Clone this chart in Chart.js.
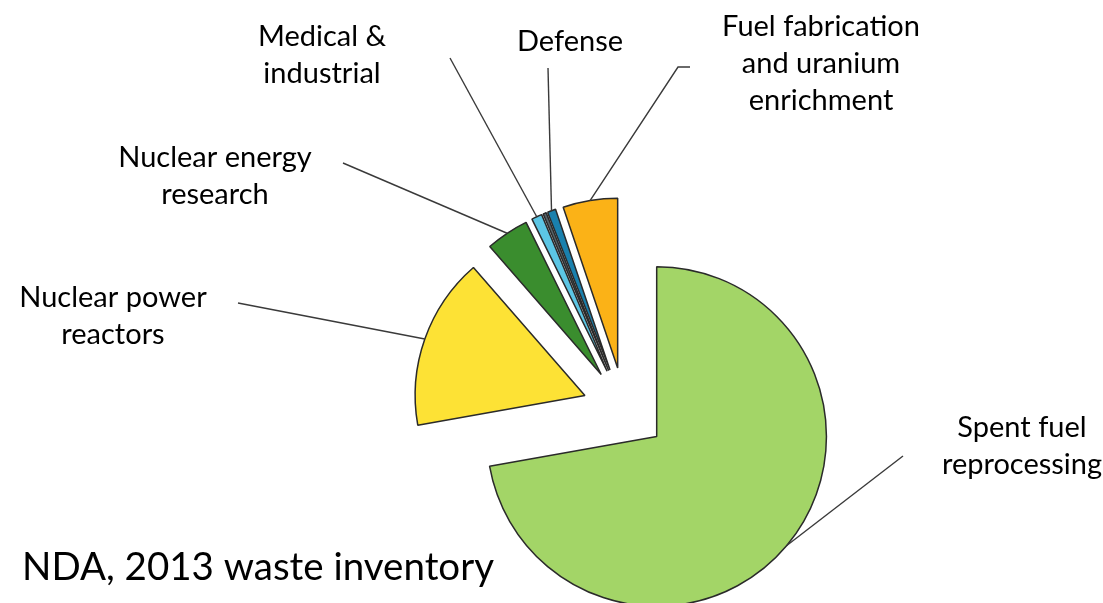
<!DOCTYPE html>
<html>
<head>
<meta charset="utf-8">
<title>NDA, 2013 waste inventory</title>
<script src="https://cdn.jsdelivr.net/npm/chart.js@4.4.1/dist/chart.umd.min.js"></script>
<style>
  html, body { margin: 0; padding: 0; background: #fff; }
  #wrap { position: relative; width: 1103px; height: 603px; }
</style>
</head>
<body>
<div id="wrap"><canvas id="wasteChart"></canvas></div>
<script>
// Share of the waste inventory by source (%), clockwise from 12 o'clock
const categories = [
  'Spent fuel reprocessing',
  'Nuclear power reactors',
  'Nuclear energy research',
  'Medical & industrial',
  'Other',
  'Defense',
  'Fuel fabrication and uranium enrichment'
];
const shares = [72.2, 16.4, 4.1, 1.0, 0.3, 0.8, 5.2];
const sliceColors = ['#a3d567', '#fde235', '#3a8d2e', '#5cc6e4', '#56656b', '#1a80ad', '#fbb217'];

// callout text, one entry per line (null = slice has no callout)
const labelLines = [
  ['Spent fuel', 'reprocessing'],
  ['Nuclear power', 'reactors'],
  ['Nuclear energy', 'research'],
  ['Medical &', 'industrial'],
  null,
  ['Defense'],
  ['Fuel fabrication', 'and uranium', 'enrichment']
];

// layout
const EXPLODE = 42;        // every slice is pulled out this far along its mid angle
const LINE_H = 37;
const labelAt = [[1022, 428], [113, 298], [215, 158], [322, 37], null, [570, 42], [821, 27]];
const leaderTo = [
  [[903, 456]],
  [[238, 303]],
  [[343, 163]],
  [[450, 58]],
  null,
  [[548, 68]],
  [[678, 67], [690, 67]]
];

// pie controller that draws each arc shifted outwards (exploded pie)
class ExplodedPieController extends Chart.PieController {
  draw() {
    const ctx = this._ctx;
    const area = this.chart.chartArea;
    this._cachedMeta.data.forEach(arc => {
      const mid = (arc.startAngle + arc.endAngle) / 2;
      ctx.save();
      ctx.translate(Math.cos(mid) * EXPLODE, Math.sin(mid) * EXPLODE);
      arc.draw(ctx, area);
      ctx.restore();
    });
  }
}
ExplodedPieController.id = 'explodedPie';
Chart.register(ExplodedPieController);

const callouts = {
  id: 'callouts',
  afterDatasetsDraw(chart) {
    const ctx = chart.ctx;
    const arcs = chart.getDatasetMeta(0).data;
    ctx.save();

    // leader lines from the middle of each outer arc
    ctx.strokeStyle = '#3a3a3a';
    ctx.lineWidth = 1.4;
    arcs.forEach((arc, i) => {
      if (!leaderTo[i]) return;
      const mid = (arc.startAngle + arc.endAngle) / 2;
      const r = arc.outerRadius + EXPLODE;
      ctx.beginPath();
      ctx.moveTo(arc.x + Math.cos(mid) * r, arc.y + Math.sin(mid) * r);
      leaderTo[i].forEach(p => ctx.lineTo(p[0], p[1]));
      ctx.stroke();
    });

    ctx.fillStyle = '#000';
    ctx.font = '29px Lato';
    ctx.textAlign = 'center';
    ctx.textBaseline = 'middle';
    labelLines.forEach((lines, i) => {
      if (!lines) return;
      lines.forEach((t, k) => ctx.fillText(t, labelAt[i][0], labelAt[i][1] + k * LINE_H));
    });

    ctx.textAlign = 'left';
    ctx.font = '38.5px Lato';
    ctx.fillText('NDA, 2013 waste inventory', 22, 568);
    ctx.restore();
  }
};

new Chart(document.getElementById('wasteChart'), {
  type: 'explodedPie',
  data: {
    labels: categories,
    datasets: [{
      data: shares,
      backgroundColor: sliceColors,
      borderColor: '#2a2a2a',
      borderWidth: 1.5,
      clip: false
    }]
  },
  options: {
    responsive: true,
    maintainAspectRatio: false,
    animation: false,
    events: [],
    layout: { padding: { left: 454, right: 308, top: 239, bottom: 23 } },
    plugins: {
      legend: { display: false },
      tooltip: { enabled: false }
    }
  },
  plugins: [callouts]
});
</script>
</body>
</html>
